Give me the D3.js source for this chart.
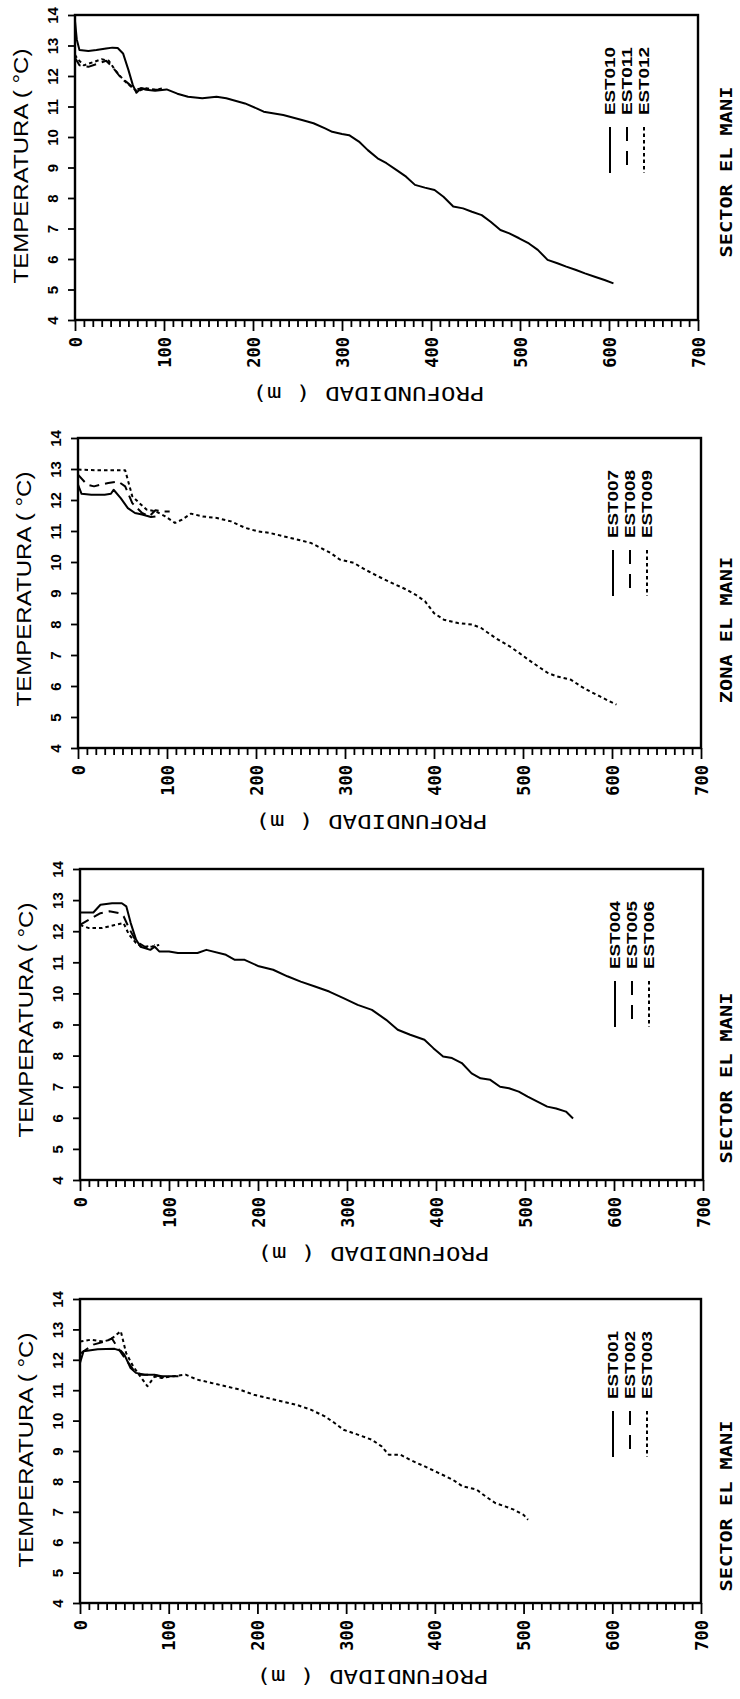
<!DOCTYPE html>
<html><head><meta charset="utf-8">
<script src="https://cdn.jsdelivr.net/npm/d3@7"></script>
<style>body{margin:0;background:#fff}svg{display:block}</style>
</head><body>
<svg id="c" width="740" height="1699"></svg>
<script>
// ---------- data ----------
const depthTicks = [0,100,200,300,400,500,600,700];
const tempTicks = [4,5,6,7,8,9,10,11,12,13,14];
const titles = ["SECTOR EL MANI","ZONA EL MANI","SECTOR EL MANI","SECTOR EL MANI"];
const names1 = ["EST010","EST011","EST012"];
const names2 = ["EST007","EST008","EST009"];
const names3 = ["EST004","EST005","EST006"];
const names4 = ["EST001","EST002","EST003"];

// [depth (m), temperature (°C)]
const est010 = [[0,13.8],[2,13.2],[5,12.85],[15,12.82],[24,12.85],[35,12.9],[42,12.93],[48,12.92],[54,12.74],[60,12.2],[65,11.7],[69,11.45],[74,11.6],[80,11.55],[90,11.52],[103,11.56],[115,11.42],[127,11.32],[143,11.27],[159,11.32],[170,11.27],[191,11.1],[204,10.94],[212,10.83],[234,10.72],[255,10.56],[268,10.45],[281,10.28],[289,10.17],[300,10.1],[308,10.06],[319,9.85],[329,9.57],[340,9.3],[350,9.14],[361,8.92],[372,8.7],[382,8.43],[393,8.34],[404,8.26],[414,8.04],[425,7.72],[436,7.66],[446,7.55],[457,7.44],[467,7.22],[478,6.95],[488,6.84],[499,6.68],[510,6.51],[520,6.3],[531,5.97],[542,5.86],[552,5.75],[563,5.64],[573,5.53],[584,5.42],[595,5.31],[605,5.2]];
const est011 = [[0,12.6],[5,12.35],[15,12.3],[25,12.4],[35,12.5],[42,12.3],[50,12.0],[60,11.75],[68,11.55],[75,11.6],[85,11.55],[95,11.55]];
const est012 = [[0,12.7],[3,12.55],[10,12.35],[20,12.45],[30,12.55],[38,12.5],[45,12.2],[55,11.85],[65,11.6],[70,11.5],[80,11.6],[90,11.55],[100,11.6]];

const est007 = [[0,12.5],[4,12.2],[15,12.17],[30,12.17],[37,12.2],[40,12.33],[48,12.06],[56,11.74],[64,11.58],[72,11.53],[82,11.45],[87,11.47]];
const est008 = [[0,12.82],[10,12.5],[18,12.44],[26,12.5],[34,12.55],[45,12.6],[53,12.44],[61,11.9],[72,11.58],[80,11.47],[87,11.67],[95,11.63],[103,11.63]];
const est009 = [[0,12.98],[20,12.96],[53,12.96],[61,12.12],[69,11.9],[77,11.69],[87.5,11.63],[98,11.47],[109,11.26],[117,11.37],[127,11.56],[140,11.47],[156,11.42],[172,11.31],[188,11.1],[202,10.99],[215,10.94],[231,10.83],[247,10.72],[262,10.61],[273,10.45],[284,10.29],[294,10.08],[310,9.97],[323,9.75],[337,9.54],[353,9.32],[369,9.11],[379,8.95],[390,8.73],[400,8.35],[411,8.14],[427,8.03],[443,7.98],[453,7.87],[469,7.55],[485,7.28],[496,7.06],[506,6.85],[517,6.63],[528,6.42],[538,6.31],[554,6.2],[565,5.99],[575,5.83],[586,5.67],[597,5.51],[605,5.4]];

const est004 = [[0,12.6],[15,12.6],[23,12.85],[36,12.9],[47,12.9],[52,12.8],[57,12.26],[63,11.73],[68,11.5],[79,11.4],[84,11.5],[89,11.35],[100,11.35],[110,11.3],[132,11.3],[142,11.4],[164,11.24],[174,11.08],[185,11.08],[201,10.87],[217,10.76],[233,10.55],[248,10.38],[264,10.22],[280,10.06],[296,9.85],[312,9.63],[328,9.47],[344,9.15],[357,8.83],[371,8.67],[387,8.51],[397,8.24],[408,7.97],[418,7.92],[429,7.76],[440,7.43],[450,7.27],[461,7.22],[472,7.0],[482,6.95],[493,6.84],[503,6.68],[514,6.52],[525,6.36],[535,6.3],[546,6.2],[554,5.98]];
const est005 = [[0,12.2],[10,12.37],[23,12.58],[33,12.64],[44,12.58],[49,12.48],[55,12.1],[63,11.67],[73,11.5],[84,11.56]];
const est006 = [[0,12.2],[10,12.1],[25,12.1],[39,12.2],[49,12.26],[55,11.89],[63,11.62],[71,11.46],[81,11.51],[89,11.56]];

const est001 = [[0,11.9],[4,12.28],[20,12.35],[39,12.36],[46,12.3],[50,12.17],[57,11.73],[63,11.57],[73,11.51],[84,11.51],[92,11.46],[100,11.46],[111,11.46]];
const est002 = [[0,12.2],[4,12.28],[15,12.5],[28,12.6],[36,12.7],[44,12.33],[52,12.0],[60,11.68],[68,11.51],[79,11.51],[90,11.46],[98,11.4]];
const est003 = [[0,12.6],[12,12.66],[26,12.6],[34,12.66],[46,12.94],[52,12.22],[60,11.78],[68,11.45],[76,11.13],[84,11.45],[92,11.4],[105,11.46],[119,11.51],[132,11.35],[148,11.24],[164,11.13],[180,11.02],[196,10.85],[212,10.74],[228,10.63],[244,10.52],[260,10.36],[276,10.14],[287,9.92],[297,9.7],[313,9.54],[329,9.37],[340,9.15],[348,8.88],[361,8.88],[372,8.71],[388,8.5],[404,8.28],[420,8.06],[431,7.84],[447,7.73],[457,7.51],[468,7.29],[479,7.18],[489,7.07],[500,6.9],[505,6.74]];

// ---------- layout ----------
const panelData = [
  {series:[est010,est011,est012], names:names1, title:titles[0]},
  {series:[est007,est008,est009], names:names2, title:titles[1]},
  {series:[est004,est005,est006], names:names3, title:titles[2]},
  {series:[est001,est002,est003], names:names4, title:titles[3]}
];
const tops = [15,438,869,1299];
const heights = [305,310,311,304];
const lefts = [75,78,80,80];
const rights = [698,701,703,701];
const titleCenters = [172,630,1078,1506];
const dashes = [null,"10,6","3.5,3"];
const ink = "#000";
const monoFont = "'DejaVu Sans Mono', monospace";
const sansFont = "'Liberation Sans', Arial, sans-serif";

const svg = d3.select("#c");

panelData.forEach((p, i) => {
  const top = tops[i], bottom = tops[i] + heights[i], left = lefts[i], right = rights[i];
  const x = d3.scaleLinear().domain([0,700]).range([left,right]);
  const y = d3.scaleLinear().domain([4,14]).range([bottom,top]);
  const g = svg.append("g");

  // frame
  g.append("rect").attr("x",left).attr("y",top).attr("width",right-left).attr("height",bottom-top)
    .attr("fill","none").attr("stroke",ink).attr("stroke-width",2.4);

  // temperature axis (left)
  const ay = g.append("g").attr("transform",`translate(${left},0)`)
    .call(d3.axisLeft(y).tickValues(tempTicks).tickSize(7).tickFormat(d3.format("d")));
  ay.select(".domain").remove();
  ay.selectAll(".tick line").attr("stroke",ink).attr("stroke-width",1.8);
  ay.selectAll(".tick text")
    .attr("transform","rotate(-90)").attr("x",0).attr("y",-22).attr("dy","0.36em")
    .attr("text-anchor","middle").attr("font-family",sansFont).attr("font-size",15)
    .attr("font-weight","bold").attr("fill",ink);

  // depth axis (bottom)
  const ax = g.append("g").attr("transform",`translate(0,${bottom})`)
    .call(d3.axisBottom(x).tickValues(d3.range(0,701,10)).tickSize(6)
      .tickFormat(d => depthTicks.includes(d) ? d : ""));
  ax.select(".domain").remove();
  ax.selectAll(".tick line").attr("stroke",ink).attr("stroke-width",1.8)
    .attr("y2", d => depthTicks.includes(d) ? 11 : 7);
  ax.selectAll(".tick text")
    .attr("transform","rotate(-90)").attr("x",-17).attr("y",0).attr("dy","0.36em")
    .attr("text-anchor","end").attr("font-family",monoFont).attr("font-size",17)
    .attr("font-weight","bold").attr("fill",ink);

  // axis titles
  g.append("text").attr("transform",`translate(${left-55},${top+151}) rotate(-90)`)
    .attr("text-anchor","middle").attr("dy","0.36em")
    .attr("font-family",sansFont).attr("font-size",21).attr("fill",ink)
    .attr("textLength",235).attr("lengthAdjust","spacingAndGlyphs")
    .text("TEMPERATURA ( °C)");
  g.append("text").attr("transform",`translate(${(left+right)/2-18},${bottom+74}) rotate(180)`)
    .attr("text-anchor","middle").attr("dy","0.36em")
    .attr("font-family",monoFont).attr("font-size",20).attr("fill",ink)
    .attr("textLength",232).attr("lengthAdjust","spacingAndGlyphs")
    .text("PROFUNDIDAD ( m)");

  // panel title
  g.append("text").attr("transform",`translate(726,${titleCenters[i]}) rotate(-90)`)
    .attr("text-anchor","middle").attr("dy","0.36em")
    .attr("font-family",monoFont).attr("font-size",16).attr("font-weight","bold").attr("fill",ink)
    .attr("textLength", p.title.length*12.2).attr("lengthAdjust","spacingAndGlyphs")
    .text(p.title);

  // curves
  const line = d3.line().x(d => x(d[0])).y(d => y(d[1]));
  p.series.forEach((s, k) => {
    g.append("path").datum(s).attr("d",line).attr("fill","none").attr("stroke",ink)
      .attr("stroke-width",2).attr("stroke-linejoin","round")
      .attr("stroke-dasharray",dashes[k]);
  });

  // legend
  p.names.forEach((n, k) => {
    const cx = right - 88 + k*17;
    g.append("text").attr("transform",`translate(${cx},${top+66}) rotate(-90)`)
      .attr("text-anchor","middle").attr("dy","0.36em")
      .attr("font-family",sansFont).attr("font-size",15).attr("font-weight","bold").attr("fill",ink)
      .attr("textLength",68).attr("lengthAdjust","spacingAndGlyphs")
      .text(n);
    g.append("line").attr("x1",cx).attr("x2",cx).attr("y1",top+112).attr("y2",top+158)
      .attr("stroke",ink).attr("stroke-width",2)
      .attr("stroke-dasharray", k===1 ? "14,10" : dashes[k]);
  });
});
</script>
</body></html>
